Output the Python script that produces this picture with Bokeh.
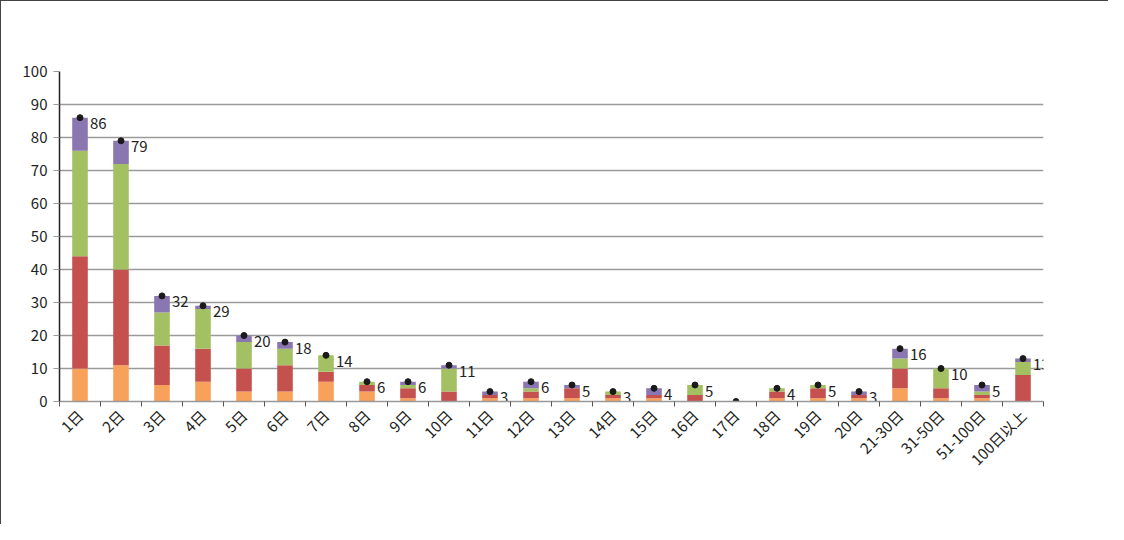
import math
from bokeh.plotting import figure
from bokeh.models import FixedTicker, Legend, LegendItem, Label, Range1d, ColumnDataSource
from bokeh.core.properties import value
from bokeh.embed import file_html
from bokeh.resources import INLINE

categories = ["1日", "2日", "3日", "4日", "5日", "6日", "7日", "8日", "9日", "10日",
              "11日", "12日", "13日", "14日", "15日", "16日", "17日", "18日", "19日", "20日",
              "21-30日", "31-50日", "51-100日", "100日以上"]
omoi = [10, 11, 5, 6, 3, 3, 6, 3, 1, 0, 1, 1, 1, 1, 1, 0, 0, 1, 1, 1, 4, 1, 1, 0]
watarase = [34, 29, 12, 10, 7, 8, 3, 2, 3, 3, 1, 2, 3, 1, 1, 2, 0, 2, 3, 1, 6, 3, 1, 8]
kinu = [32, 32, 10, 12, 8, 5, 5, 1, 1, 7, 0, 1, 0, 1, 0, 3, 0, 1, 1, 0, 3, 6, 1, 4]
naka = [10, 7, 5, 1, 2, 2, 0, 0, 1, 1, 1, 2, 1, 0, 2, 0, 0, 0, 0, 1, 3, 0, 2, 1]
totals = [86, 79, 32, 29, 20, 18, 14, 6, 6, 11, 3, 6, 5, 3, 4, 5, 0, 4, 5, 3, 16, 10, 5, 13]
series_names = ["思川流域", "渡良瀬川流域‥", "鬼怒・小貝川流域", "那珂・久慈川流域"]
colors = ["#F8A15A", "#C4514E", "#A3C163", "#8A76B0"]
y_ticks = [0, 10, 20, 30, 40, 50, 60, 70, 80, 90, 100]

FONT = "Noto Sans CJK JP"
n = len(categories)
xs = [i + 0.5 for i in range(n)]

src = ColumnDataSource(dict(x=xs, omoi=omoi, watarase=watarase, kinu=kinu, naka=naka,
                            total=totals, lbl=[str(t) for t in totals]))

p = figure(width=1108, height=524, output_backend="svg", toolbar_location=None,
           x_range=Range1d(0, n), y_range=Range1d(0, 100),
           min_border_left=58, min_border_right=66, min_border_top=70, min_border_bottom=124)
p.outline_line_color = None
p.background_fill_color = "white"

rs = p.vbar_stack(["omoi", "watarase", "kinu", "naka"], x="x", width=0.38, source=src,
                  color=colors, line_color=None)

dots = p.scatter(x="x", y="total", source=src, size=6, color="#1a1a1a")
p.text(x="x", y="total", text="lbl", source=src, x_offset=10, y_offset=6,
       text_font=value(FONT), text_font_size="15px", text_color="#222222",
       text_baseline="middle", text_align="left")

# y axis
p.yaxis.ticker = FixedTicker(ticks=y_ticks)
p.yaxis.axis_line_color = "#222222"
p.yaxis.axis_line_width = 1.5
p.yaxis.major_tick_out = 6
p.yaxis.major_tick_in = 0
p.yaxis.major_tick_line_color = "#999999"
p.yaxis.minor_tick_line_color = None
p.yaxis.major_label_text_font = FONT
p.yaxis.major_label_text_font_size = "15px"
p.yaxis.major_label_text_color = "#222222"
p.yaxis.major_label_standoff = 6

# x axis
p.xaxis.ticker = FixedTicker(ticks=xs, minor_ticks=list(range(n + 1)))
p.xaxis.major_label_overrides = {x: c for x, c in zip(xs, categories)}
p.xaxis.major_tick_out = 0
p.xaxis.major_tick_in = 0
p.xaxis.minor_tick_out = 5
p.xaxis.minor_tick_in = 0
p.xaxis.minor_tick_line_color = "#555555"
p.xaxis.axis_line_color = "#999999"
p.xaxis.axis_line_width = 1.5
p.xaxis.major_label_orientation = math.pi / 4
p.xaxis.major_label_text_font = FONT
p.xaxis.major_label_text_font_size = "15px"
p.xaxis.major_label_text_color = "#222222"
p.xaxis.major_label_standoff = 6

p.xgrid.grid_line_color = None
p.ygrid.grid_line_color = "#9a9a9a"
p.ygrid.grid_line_width = 1.5

# axis titles as labels
p.add_layout(Label(x=-52, y=343, x_units="screen", y_units="screen", text="（収束件数）",
                   text_font=FONT, text_font_size="16px", text_color="#222222"))
p.add_layout(Label(x=900, y=-93, x_units="screen", y_units="screen", text="（収束日数）",
                   text_font=FONT, text_font_size="16px", text_color="#222222"))

legend = Legend(items=[LegendItem(label=series_names[3], renderers=[rs[3]]),
                       LegendItem(label=series_names[2], renderers=[rs[2]]),
                       LegendItem(label=series_names[1], renderers=[rs[1]]),
                       LegendItem(label=series_names[0], renderers=[rs[0]]),
                       LegendItem(label="合計", renderers=[dots])],
                orientation="horizontal", location=(-14, -120),
                label_text_font=FONT, label_text_font_size="16px", label_text_color="#222222",
                glyph_width=10, glyph_height=10, spacing=42, label_standoff=4,
                border_line_color=None, background_fill_alpha=0)
p.add_layout(legend)

p.styles = {"border-left": "1.5px solid #444", "border-top": "1.5px solid #444"}

open("out.html", "w").write(file_html(p, INLINE))
